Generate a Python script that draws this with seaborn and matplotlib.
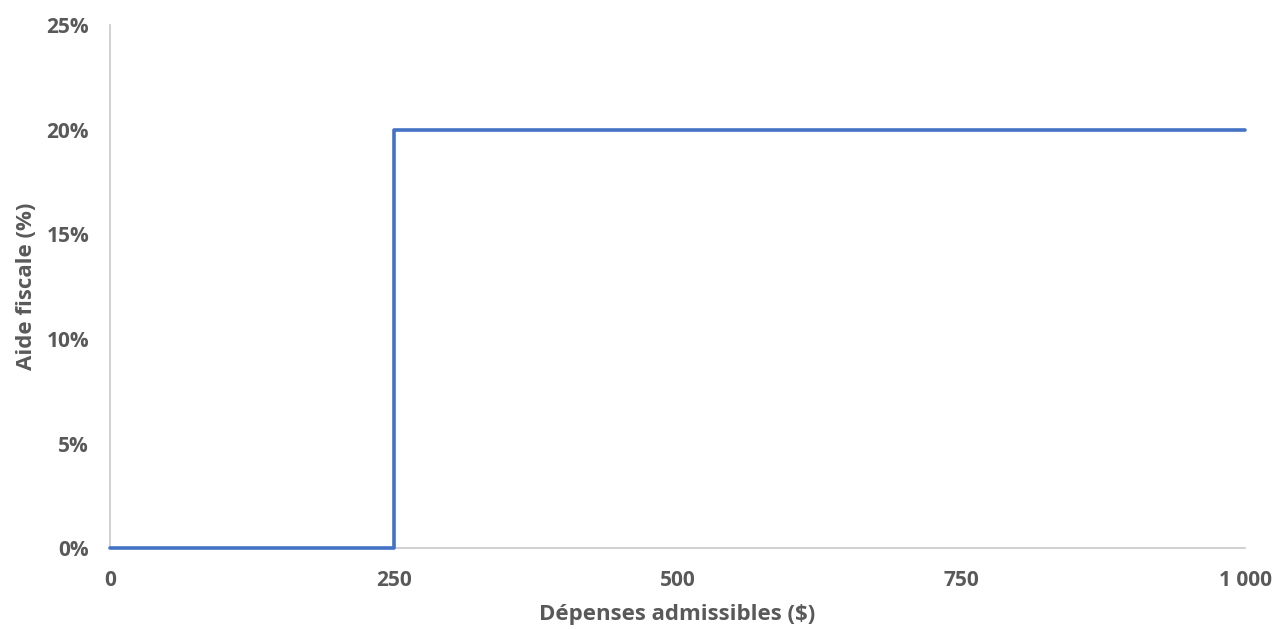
import pandas as pd
import seaborn as sns
import matplotlib.pyplot as plt
from matplotlib.ticker import FuncFormatter

# Data: eligible expenses ($) vs tax assistance rate (%)
depenses = [0, 250, 1000]
aide = [0, 20, 20]
x_ticks = [0, 250, 500, 750, 1000]
y_ticks = [0, 5, 10, 15, 20, 25]

df = pd.DataFrame({'depenses': depenses, 'aide': aide})

sns.set_theme(style="white")
plt.rcParams['font.family'] = ['Open Sans', 'DejaVu Sans']
plt.rcParams['font.weight'] = 'bold'

fig = plt.figure(figsize=(12.74, 6.3), dpi=100)
ax = fig.add_axes([0.0863, 0.130, 0.891, 0.830])

sns.lineplot(x='depenses', y='aide', data=df, ax=ax, color='#4472C4',
             linewidth=2.6, drawstyle='steps-post', clip_on=False, zorder=3)

ax.set_xlim(0, 1000)
ax.set_ylim(0, 25)
ax.set_xticks(x_ticks)
ax.set_yticks(y_ticks)
ax.xaxis.set_major_formatter(FuncFormatter(lambda v, p: f"{int(v):,}".replace(',', ' ')))
ax.yaxis.set_major_formatter(FuncFormatter(lambda v, p: f"{int(v)}%"))

gray = '#595959'
ax.tick_params(axis='both', length=0, labelsize=15, labelcolor=gray)
ax.tick_params(axis='y', pad=15)
ax.tick_params(axis='x', pad=16)
for lab in ax.get_xticklabels() + ax.get_yticklabels():
    lab.set_fontweight('bold')

for side in ['top', 'right']:
    ax.spines[side].set_visible(False)
for side in ['left', 'bottom']:
    ax.spines[side].set_color('#C8C8C8')
    ax.spines[side].set_linewidth(1.2)

ax.set_xlabel('Dépenses admissibles ($)', fontsize=16, fontweight='bold', color=gray, labelpad=9)
ax.set_ylabel('Aide fiscale (%)', fontsize=16, fontweight='bold', color=gray, labelpad=7)

fig.savefig('out.png', dpi=100)
